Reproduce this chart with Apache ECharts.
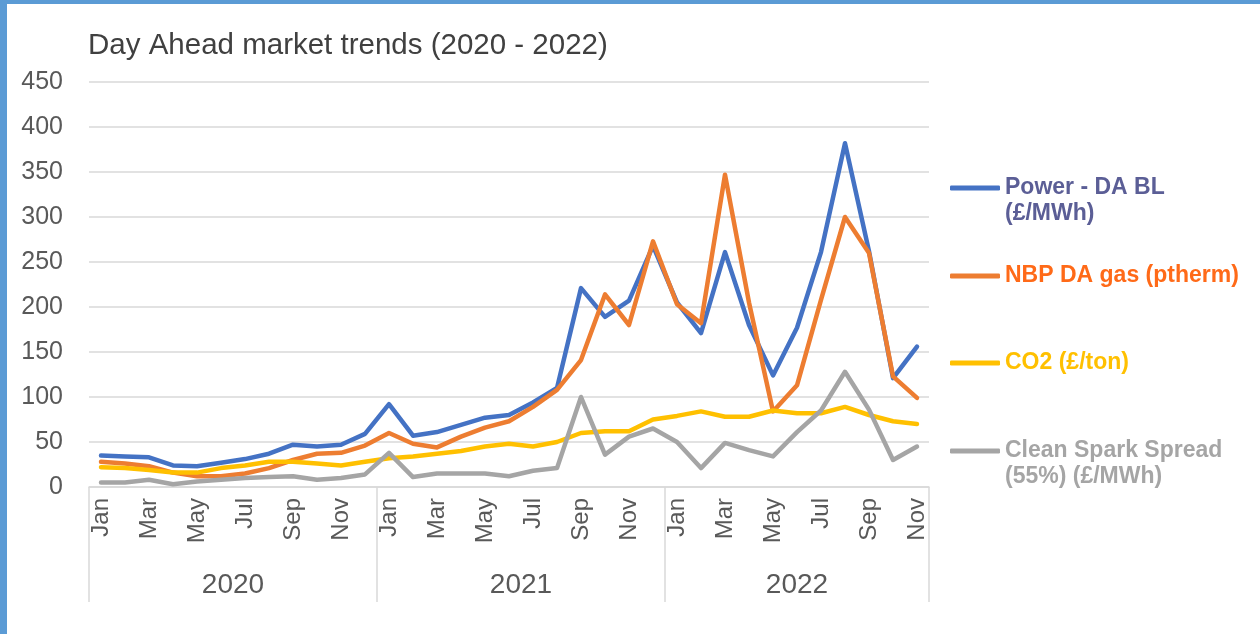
<!DOCTYPE html>
<html>
<head>
<meta charset="utf-8">
<script src="https://cdn.jsdelivr.net/npm/echarts@6/dist/echarts.min.js"></script>
<style>
  html, body { margin: 0; padding: 0; background: #fff; }
  #wrap { position: relative; width: 1260px; height: 634px; overflow: hidden; }
  #chart { position: absolute; left: 0; top: 0; width: 1260px; height: 634px; }
  .frameTop { position: absolute; left: 0; top: 0; width: 1260px; height: 4px; background: #5b9bd5; }
  .frameLeft { position: absolute; left: 0; top: 0; width: 7px; height: 634px; background: #5b9bd5; }
</style>
</head>
<body>
<div id="wrap">
  <div id="chart"></div>
  <div class="frameTop"></div>
  <div class="frameLeft"></div>
</div>
<script>
// ---- data ----
var monthLabels = ['Jan','Feb','Mar','Apr','May','Jun','Jul','Aug','Sep','Oct','Nov','Dec',
                   'Jan','Feb','Mar','Apr','May','Jun','Jul','Aug','Sep','Oct','Nov','Dec',
                   'Jan','Feb','Mar','Apr','May','Jun','Jul','Aug','Sep','Oct','Nov'];
var monthYears = ['2020','2020','2020','2020','2020','2020','2020','2020','2020','2020','2020','2020',
                  '2021','2021','2021','2021','2021','2021','2021','2021','2021','2021','2021','2021',
                  '2022','2022','2022','2022','2022','2022','2022','2022','2022','2022','2022'];
var yearLabels = ['2020','2021','2022'];
var yTicks = [0, 50, 100, 150, 200, 250, 300, 350, 400, 450];

var powerDA = [35, 34, 33, 24, 23, 27, 31, 37, 47, 45, 47, 59, 92, 57, 61, 69, 77, 80, 94, 110, 221, 189, 207, 268, 205, 171, 261, 180, 124, 177, 261, 382, 262, 121, 156];
var nbpGas  = [28, 26, 23, 16, 12, 12, 15, 21, 30, 37, 38, 46, 60, 48, 44, 56, 66, 73, 89, 108, 141, 214, 180, 273, 203, 182, 347, 205, 84, 113, 208, 300, 260, 123, 99];
var co2     = [22, 21, 19, 16, 16, 21, 24, 28, 28, 26, 24, 28, 32, 34, 37, 40, 45, 48, 45, 50, 60, 62, 62, 75, 79, 84, 78, 78, 85, 82, 82, 89, 80, 73, 70];
var spread  = [5, 5, 8, 3, 6, 8, 10, 11, 12, 8, 10, 14, 38, 11, 15, 15, 15, 12, 18, 21, 100, 36, 56, 65, 50, 21, 49, 41, 34, 61, 85, 128, 86, 30, 45];

var seriesNames = ['Power - DA BL\n(£/MWh)', 'NBP DA gas (ptherm)', 'CO2 (£/ton)', 'Clean Spark Spread\n(55%) (£/MWh)'];
var seriesColors = ['#4472c4', '#ed7d31', '#ffc000', '#a5a5a5'];
var legendTextColors = ['#5b5e96', '#ff6a18', '#ffc000', '#a5a5a5'];

// ---- derived group boundaries for year axis ----
var bounds = [0], mids = [];
for (var i = 1; i <= monthYears.length; i++) {
  if (i === monthYears.length || monthYears[i] !== monthYears[i - 1]) {
    mids.push((bounds[bounds.length - 1] + i) / 2);
    bounds.push(i);
  }
}

var FONT = "'Liberation Sans', Arial, sans-serif";
var chart = echarts.init(document.getElementById('chart'), null, { renderer: 'canvas' });

var legendTops = [149, 263, 350, 412];
var legends = seriesNames.map(function (n, k) {
  return {
    data: [n],
    left: 950,
    top: legendTops[k],
    padding: 0,
    icon: 'roundRect',
    itemWidth: 50,
    itemHeight: 5,
    selectedMode: false,
    formatter: function (name) {
      return name.indexOf('\n') >= 0 ? ' \n' + name : name;
    },
    textStyle: {
      color: legendTextColors[k],
      fontFamily: FONT,
      fontWeight: 'bold',
      fontSize: 23,
      lineHeight: 26
    }
  };
});

var option = {
  animation: false,
  backgroundColor: 'transparent',
  title: {
    text: 'Day Ahead market trends (2020 - 2022)',
    left: 88,
    top: 31,
    padding: 0,
    textStyle: { color: '#404040', fontFamily: FONT, fontWeight: 'normal', fontSize: 29.5 }
  },
  legend: legends,
  grid: { left: 89, top: 82, width: 840, height: 405, containLabel: false },
  xAxis: [
    {
      type: 'category',
      data: monthLabels,
      boundaryGap: true,
      position: 'bottom',
      axisLine: { show: true, lineStyle: { color: '#d9d9d9', width: 1.5 } },
      axisTick: { show: false },
      axisLabel: {
        interval: 1,
        rotate: 90,
        margin: 11,
        color: '#595959',
        fontFamily: FONT,
        fontSize: 24
      },
      splitLine: { show: false }
    },
    {
      type: 'value',
      min: 0,
      max: monthYears.length,
      position: 'bottom',
      axisLine: { show: false },
      splitLine: { show: false },
      axisTick: {
        show: true,
        inside: false,
        length: 115,
        customValues: bounds,
        lineStyle: { color: '#d9d9d9', width: 1.5 }
      },
      axisLabel: {
        show: true,
        customValues: mids,
        margin: 84,
        color: '#595959',
        fontFamily: "'Liberation Sans Narrow', 'Liberation Sans', Arial, sans-serif",
        fontSize: 28,
        formatter: function (v) {
          var idx = mids.indexOf(v);
          return idx >= 0 ? yearLabels[idx] : '';
        }
      }
    }
  ],
  yAxis: {
    type: 'value',
    min: yTicks[0],
    max: yTicks[yTicks.length - 1],
    interval: 50,
    axisLine: { show: false },
    axisTick: { show: false },
    axisLabel: { color: '#595959', fontFamily: FONT, fontSize: 25, margin: 26 },
    splitLine: { show: true, lineStyle: { color: '#d9d9d9', width: 1.5 } }
  },
  series: [powerDA, nbpGas, co2, spread].map(function (d, k) {
    return {
      name: seriesNames[k],
      type: 'line',
      xAxisIndex: 0,
      data: d,
      symbol: 'none',
      showSymbol: false,
      smooth: false,
      color: seriesColors[k],
      lineStyle: { width: 4.5, color: seriesColors[k], cap: 'round', join: 'round' }
    };
  })
};
chart.setOption(option);
</script>
</body>
</html>
